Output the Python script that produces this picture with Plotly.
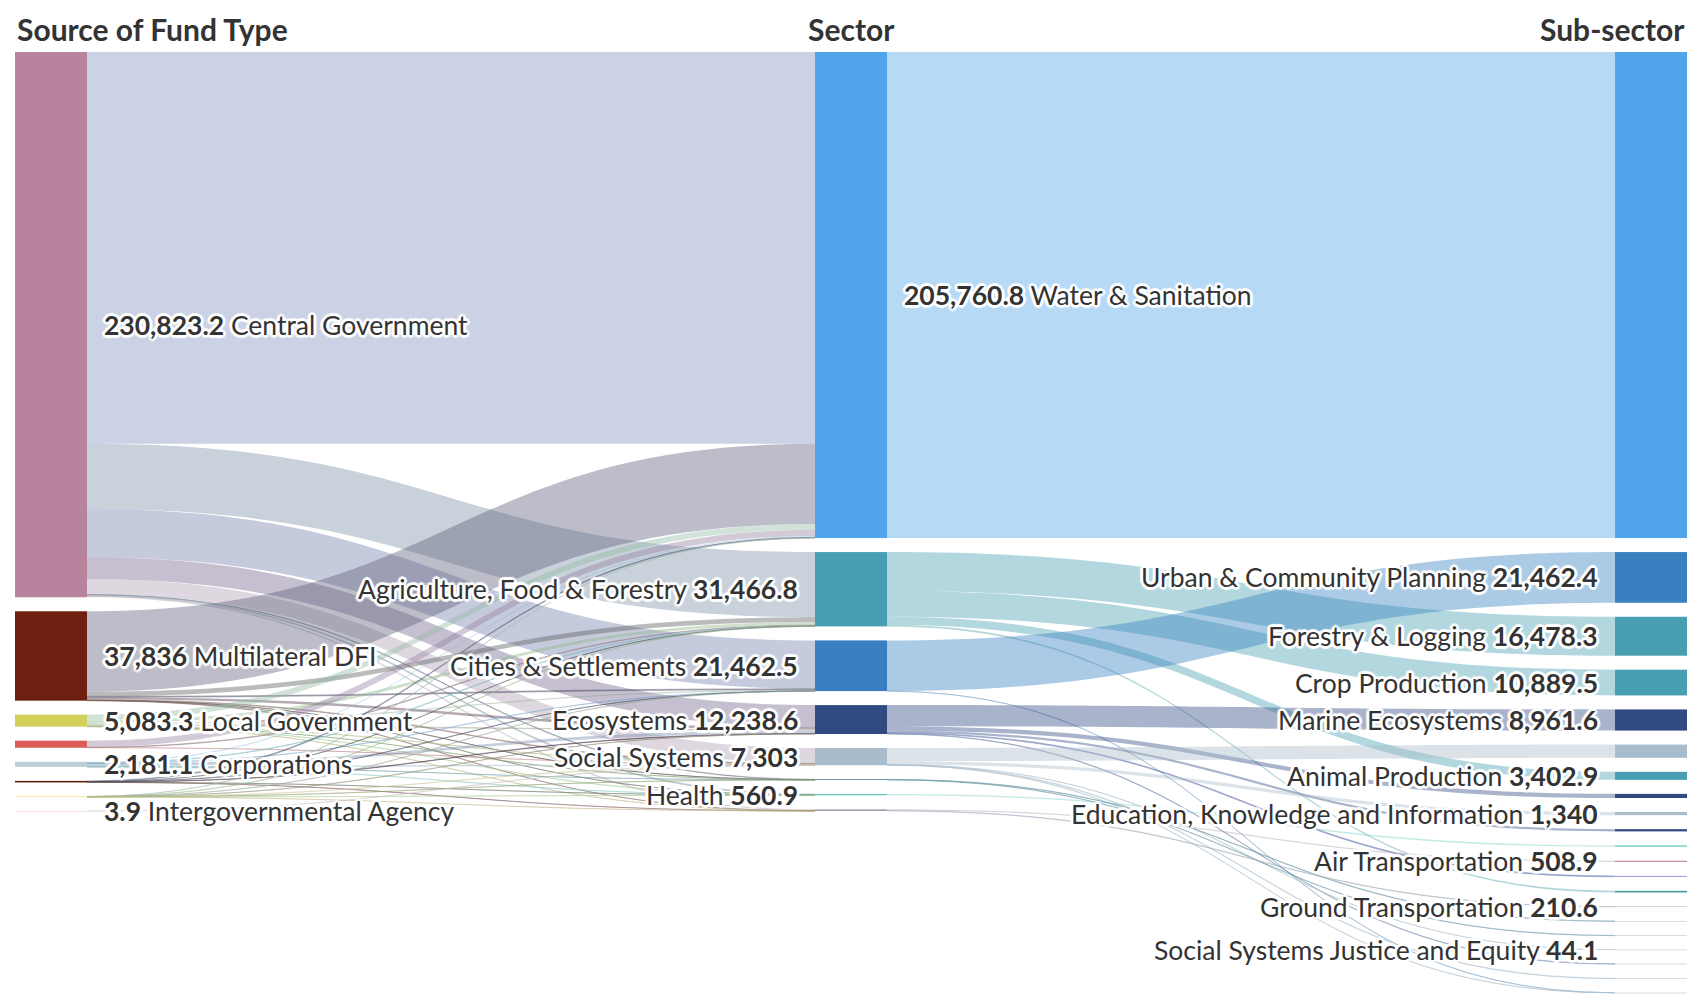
import plotly.graph_objects as go

# ---------------- data ----------------
fund_types = ["Central Government", "Multilateral DFI", "Local Government", "Bilateral DFI",
              "Corporations", "Philanthropy", "Private Finance", "Intergovernmental Agency"]
sectors = ["Water & Sanitation", "Agriculture, Food & Forestry", "Cities & Settlements", "Ecosystems",
           "Social Systems", "Energy", "Health", "Transport"]
subsectors = ["Water & Sanitation", "Urban & Community Planning", "Forestry & Logging", "Crop Production",
              "Marine Ecosystems", "Social Protection", "Animal Production", "Terrestrial Ecosystems",
              "Education, Knowledge and Information", "Freshwater Ecosystems", "Health Systems",
              "Air Transportation", "Biodiversity", "Fisheries & Aquaculture", "Ground Transportation",
              "Energy Efficiency", "Renewable Energy", "Social Systems Justice and Equity",
              "Coastal Ecosystems", "Livelihoods", "Other"]

# fund type -> sector (rows: fund types, columns: sectors)
fund_to_sector = [
    [165823.2, 27600, 20500, 9200, 6500, 200, 400, 600],
    [34000, 2000, 400, 1000, 300, 36, 60, 40],
    [2400, 1300, 500, 600, 200, 13.3, 40, 30],
    [2700, 250, 0, 0, 50, 0, 0, 0],
    [500, 200, 31.1, 1200, 200, 20, 30, 0],
    [300, 80, 20, 200, 0, 0, 20, 30],
    [37.6, 36.8, 11.4, 38.6, 49.1, 30.7, 10.9, 19.5],
    [0, 0, 0, 0, 3.9, 0, 0, 0],
]

# sector -> sub-sector flows
sector_sub_src = [0, 1, 1, 1, 1, 2, 2, 3, 3, 3, 3, 3, 4, 4, 4, 4, 4, 5, 5, 6, 7, 7]
sector_sub_tgt = [0, 2, 3, 6, 13, 1, 20, 4, 7, 9, 12, 18, 5, 8, 17, 19, 20, 15, 16, 10, 11, 14]
sector_sub_val = [205760.8, 16478.3, 10889.5, 3402.9, 696.1, 21462.4, 0.1, 8961.6, 1750, 950, 380, 197,
                  5600, 1340, 44.1, 218.9, 100, 180, 120, 560.9, 508.9, 210.6]

fund_colors = ["#b8839d", "#6e2010", "#d3cf5b", "#dc5c58", "#bccfd4", "#5a1a08", "#f2d36a", "#f4c2ba"]
sector_colors = ["#50a5ea", "#479fb1", "#3880c0", "#314a82", "#a9bccb", "#2a6e78", "#6ccbc3", "#a3a6b0"]
sub_colors = ["#50a5ea", "#3880c0", "#479fb1", "#479fb1", "#314a82", "#a9bccb", "#479fb1", "#314a82",
              "#a9bccb", "#314a82", "#6ccbc3", "#c08aa6", "#8890d6", "#4a9c9c", "#9bb0c2",
              "#a9bccb", "#a9bccb", "#a9bccb", "#a9bccb", "#a9bccb", "#a9bccb"]

# ---------------- layout geometry ----------------
W, H = 1700, 1000
TOP, BOTTOM = 52, 993
THICK = 72
PAD = 14
col_centers_px = [15 + THICK / 2, 815 + THICK / 2, 1615 + THICK / 2]
LABEL_GAP = 15
MIN_LABEL_SEP = 36

nF, nS, nR = len(fund_types), len(sectors), len(subsectors)

fund_vals = [sum(r) for r in fund_to_sector]
sector_vals = [sum(fund_to_sector[i][j] for i in range(nF)) for j in range(nS)]
sub_vals = [0.0] * nR
for t, v in zip(sector_sub_tgt, sector_sub_val):
    sub_vals[t] += v

columns = [fund_vals, sector_vals, sub_vals]
Hpx = BOTTOM - TOP
nmax = max(len(c) for c in columns)
total = sum(fund_vals)
ky = (Hpx - (nmax - 1) * PAD) / total

centers = []
for col in columns:
    y = 0.0
    cs = []
    for v in col:
        h = v * ky
        cs.append(y + h / 2)
        y += h + PAD
    centers.append(cs)


def hex_rgb(h):
    h = h.lstrip("#")
    return tuple(int(h[i:i + 2], 16) for i in (0, 2, 4))


def blend(a, b, alpha=0.42):
    ra, rb = hex_rgb(a), hex_rgb(b)
    m = [(x + y) / 2 for x, y in zip(ra, rb)]
    return "rgba(%d,%d,%d,%.2f)" % (m[0], m[1], m[2], alpha)


labels = fund_types + sectors + subsectors
colors = fund_colors + sector_colors + sub_colors
node_x = [col_centers_px[0] / W] * nF + [col_centers_px[1] / W] * nS + [col_centers_px[2] / W] * nR
node_y = [c / Hpx for c in centers[0]] + [c / Hpx for c in centers[1]] + [c / Hpx for c in centers[2]]

src, tgt, val, lcol = [], [], [], []
for i in range(nF):
    for j in range(nS):
        v = fund_to_sector[i][j]
        if v > 0:
            src.append(i)
            tgt.append(nF + j)
            val.append(v)
            lcol.append(blend(fund_colors[i], sector_colors[j]))
for s, t, v in zip(sector_sub_src, sector_sub_tgt, sector_sub_val):
    src.append(nF + s)
    tgt.append(nF + nS + t)
    val.append(v)
    lcol.append(blend(sector_colors[s], sub_colors[t]))

fig = go.Figure(go.Sankey(
    arrangement="fixed",
    domain=dict(x=[0, 1], y=[1 - BOTTOM / H, 1 - TOP / H]),
    node=dict(label=labels, color=colors, pad=PAD, thickness=THICK,
              x=node_x, y=node_y, line=dict(width=0)),
    link=dict(source=src, target=tgt, value=val, color=lcol, line=dict(width=0)),
    textfont=dict(color="rgba(0,0,0,0)", size=1),
))


def fmt(v):
    s = f"{v:,.1f}"
    return s[:-2] if s.endswith(".0") else s


halo = ", ".join(f"{dx}px {dy}px 1px #fff" for dx, dy in
                 [(-3, 0), (3, 0), (0, -3), (0, 3), (-2, -2), (2, -2), (-2, 2), (2, 2)])
label_font = dict(family="Lato", size=26.5, color="#333333", shadow=halo)

annotations = []
for ci, (names, vals) in enumerate([(fund_types, fund_vals), (sectors, sector_vals), (subsectors, sub_vals)]):
    last = None
    for k, (name, v) in enumerate(zip(names, vals)):
        cy = TOP + centers[ci][k]
        if ci == 2 and k == 0:
            continue  # clashes with the sector label beside it
        if last is not None and cy - last < MIN_LABEL_SEP:
            continue
        if cy + 15 > H:
            continue
        last = cy
        right_side = ci == 0 or (ci == 1 and k == 0)
        if right_side:
            x = col_centers_px[ci] + THICK / 2 + LABEL_GAP
            text = f"<b>{fmt(v)}</b> {name}"
            xa = "left"
        else:
            x = col_centers_px[ci] - THICK / 2 - LABEL_GAP
            text = f"{name} <b>{fmt(v)}</b>"
            xa = "right"
        annotations.append(dict(x=x / W, y=1 - cy / H, xref="paper", yref="paper", text=text,
                                showarrow=False, xanchor=xa, yanchor="middle", font=label_font))

header_font = dict(family="Lato", size=30, color="#333333")
headers = [("Source of Fund Type", 15, "left"), ("Sector", col_centers_px[1], "center"),
           ("Sub-sector", 1687, "right")]
for text, x, xa in headers:
    annotations.append(dict(x=x / W, y=1 - 29 / H, xref="paper", yref="paper", text=f"<b>{text}</b>",
                            showarrow=False, xanchor=xa, yanchor="middle", font=header_font))

fig.update_layout(width=W, height=H, margin=dict(l=0, r=0, t=0, b=0),
                  paper_bgcolor="white", plot_bgcolor="white", annotations=annotations)

fig.write_html("out.html")
